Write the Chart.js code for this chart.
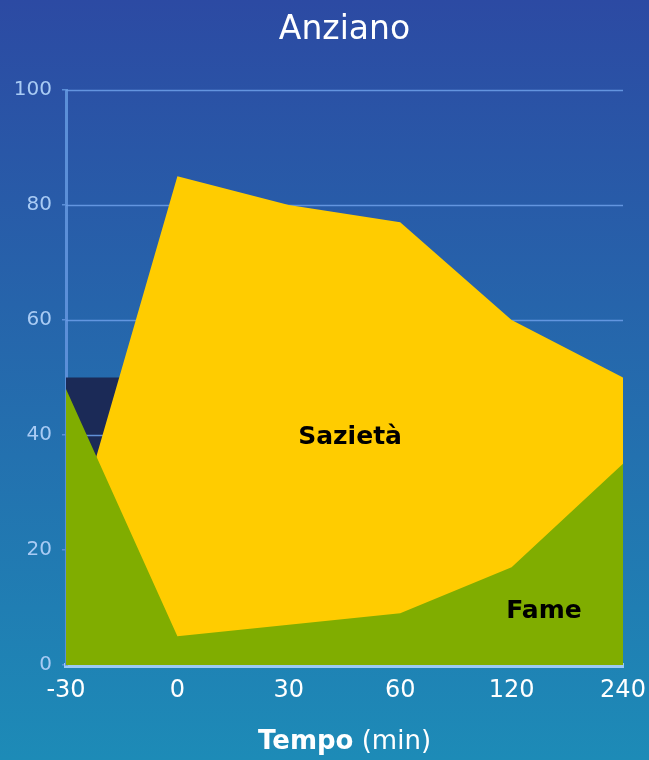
<!DOCTYPE html>
<html>
<head>
<meta charset="utf-8">
<script src="https://cdn.jsdelivr.net/npm/chart.js@4.4.0/dist/chart.umd.min.js"></script>
<style>
  html, body { margin: 0; padding: 0; }
  body { width: 649px; height: 760px; background: linear-gradient(to bottom, #2c4aa3, #1d8bb7); }
</style>
</head>
<body>
<canvas id="myChart" width="649" height="760"></canvas>
<script>
// tempo (min)
var categories = ['-30', '0', '30', '60', '120', '240'];
var fame = [48, 5, 7, 9, 17, 35];
var sazieta = [18, 85, 80, 77, 60, 50];
var base = [50, 50, 50, 50, 50, 50];
var yTicks = [0, 20, 40, 60, 80, 100];

var FONT = "'DejaVu Sans', Verdana, sans-serif";

// grid lines go above the dark area but below the other two
var gridPlugin = {
    id: 'gridOverBase',
    afterDatasetDraw: function (chart, args) {
        if (args.index !== 2) return;
        var ctx = chart.ctx, y = chart.scales.y, area = chart.chartArea;
        ctx.save();
        ctx.strokeStyle = 'rgba(105,155,230,0.9)';
        ctx.lineWidth = 1.5;
        yTicks.forEach(function (v) {
            if (v === 0) return;
            var py = Math.round(y.getPixelForValue(v)) + 0.5;
            ctx.beginPath();
            ctx.moveTo(area.left, py);
            ctx.lineTo(area.right, py);
            ctx.stroke();
        });
        ctx.restore();
    }
};

var textPlugin = {
    id: 'texts',
    afterDraw: function (chart) {
        var ctx = chart.ctx, area = chart.chartArea;
        var xs = chart.scales.x, ys = chart.scales.y;
        var cx = (area.left + area.right) / 2;
        ctx.save();
        ctx.textBaseline = 'alphabetic';

        // title
        ctx.fillStyle = '#ffffff';
        ctx.textAlign = 'center';
        ctx.font = '33px ' + FONT;
        ctx.fillText('Anziano', cx, 39);

        // x axis title, bold + normal
        ctx.textAlign = 'left';
        ctx.font = 'bold 26px ' + FONT;
        var w1 = ctx.measureText('Tempo').width;
        ctx.font = '26px ' + FONT;
        var w2 = ctx.measureText(' (min)').width;
        var sx = cx - (w1 + w2) / 2;
        ctx.font = 'bold 26px ' + FONT;
        ctx.fillText('Tempo', sx, 749);
        ctx.font = '26px ' + FONT;
        ctx.fillText(' (min)', sx + w1, 749);

        // area labels
        ctx.fillStyle = '#000000';
        ctx.textAlign = 'center';
        ctx.textBaseline = 'middle';
        ctx.font = 'bold 25px ' + FONT;
        ctx.fillText('Sazietà', xs.getPixelForValue(2.55), ys.getPixelForValue(39.5));
        ctx.fillText('Fame', xs.getPixelForValue(4.29), ys.getPixelForValue(9.3));
        ctx.restore();
    }
};

var ctx = document.getElementById('myChart').getContext('2d');
var myChart = new Chart(ctx, {
    type: 'line',
    data: {
        labels: categories,
        datasets: [{
            label: 'Fame',
            data: fame,
            fill: 'origin',
            backgroundColor: '#80ad00',
            borderWidth: 0,
            pointRadius: 0,
            order: 0
        }, {
            label: 'Sazietà',
            data: sazieta,
            fill: 'origin',
            backgroundColor: '#ffcc00',
            borderWidth: 0,
            pointRadius: 0,
            order: 1
        }, {
            label: 'base',
            data: base,
            fill: 'origin',
            backgroundColor: '#1b2a57',
            borderWidth: 0,
            pointRadius: 0,
            order: 2
        }]
    },
    options: {
        responsive: false,
        animation: false,
        devicePixelRatio: 1,
        layout: { padding: { top: 90, right: 26, left: 0, bottom: 0 } },
        plugins: {
            legend: { display: false },
            tooltip: { enabled: false },
            title: { display: false }
        },
        scales: {
            x: {
                offset: false,
                grid: { display: false, drawTicks: false },
                border: { display: true, color: '#9ccaf6', width: 5 },
                ticks: {
                    color: '#ffffff',
                    padding: 11,
                    maxRotation: 0,
                    autoSkip: false,
                    font: { family: FONT, size: 24 }
                },
                afterFit: function (scale) {
                    scale.height = 95;
                    scale.paddingLeft = 0;
                    scale.paddingRight = 0;
                }
            },
            y: {
                min: 0,
                max: 100,
                afterBuildTicks: function (scale) {
                    scale.ticks = yTicks.map(function (v) { return { value: v }; });
                },
                grid: { color: 'rgba(0,0,0,0)', tickColor: '#5b8fd8', tickLength: 4, lineWidth: 1.5 },
                border: { display: true, color: '#5b8fd8', width: 3 },
                ticks: {
                    color: '#a9cbf4',
                    padding: 10,
                    font: { family: FONT, size: 20 }
                },
                afterFit: function (scale) { scale.width = 66; }
            }
        }
    },
    plugins: [gridPlugin, textPlugin]
});
</script>
</body>
</html>
